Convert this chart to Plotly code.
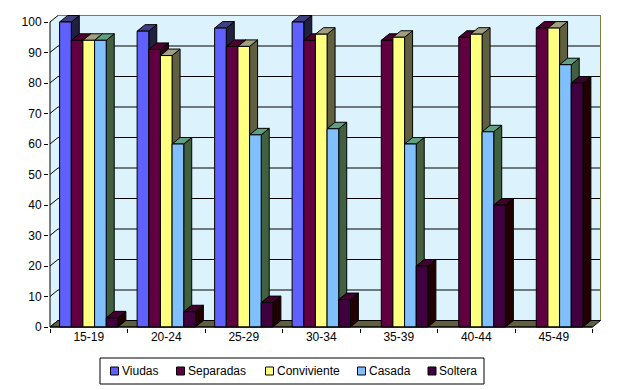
import plotly.graph_objects as go

# ---------------- data ----------------
categories = ["15-19", "20-24", "25-29", "30-34", "35-39", "40-44", "45-49"]
series_names = ["Viudas", "Separadas", "Conviviente", "Casada", "Soltera"]
viudas = [100, 97, 98, 100, None, None, None]
separadas = [94, 91, 92, 94, 94, 95, 98]
conviviente = [94, 89, 92, 96, 95, 96, 98]
casada = [94, 60, 63, 65, 60, 64, 86]
soltera = [3, 5, 8, 9, 20, 40, 80]
y_ticks = [0, 10, 20, 30, 40, 50, 60, 70, 80, 90, 100]

series_values = [viudas, separadas, conviviente, casada, soltera]

# ---------------- styles ----------------
front_colors = ["#6060FF", "#600040", "#FFFF80", "#80C0FF", "#400040"]
top_colors = ["#404080", "#500030", "#A0A080", "#60A080", "#400030"]
side_colors = ["#202040", "#300020", "#606040", "#406040", "#200000"]
wall_color = "#dcf2fc"
floor_color = "#606040"
wall_border = "#808040"
FONT = "Liberation Sans, Arial, sans-serif"

# ---------------- geometry (pixels) ----------------
W_FIG, H_FIG = 624, 390
ML, MR, MT, MB = 49, 22, 14, 62
PX_CAT = 77.5      # pixels per category
PX_UNIT = 3.05     # pixels per y unit
DEPTH_X, DEPTH_Y = 8.0, 6.5
BARGAP = 0.248
n_cat = len(categories)
n_ser = len(series_names)

dxu = DEPTH_X / PX_CAT
dyu = DEPTH_Y / PX_UNIT
x_range = [-0.5 - 1 / PX_CAT, n_cat - 0.5 + 9.5 / PX_CAT]
y_max = max(y_ticks)
y_range = [-1 / PX_UNIT, y_max + 8 / PX_UNIT]
x_lo, x_hi = -0.5, n_cat - 0.5

fig = go.Figure()
for name, vals, col in zip(series_names, series_values, front_colors):
    fig.add_trace(go.Bar(
        x=categories, y=vals, name=name,
        marker=dict(color=col, line=dict(color="black", width=1)),
        hoverinfo="skip", showlegend=False,
    ))


def poly(pts):
    return "M " + " L ".join(f"{x},{y}" for x, y in pts) + " Z"


shapes = []
# back wall + left wall
shapes.append(dict(type="rect", xref="x", yref="y", x0=x_lo + dxu, x1=x_hi + dxu,
                   y0=dyu, y1=y_max + dyu, fillcolor=wall_color, line=dict(width=0),
                   layer="below"))
shapes.append(dict(type="path", xref="x", yref="y",
                   path=poly([(x_lo, 0), (x_lo, y_max), (x_lo + dxu, y_max + dyu), (x_lo + dxu, dyu)]),
                   fillcolor=wall_color, line=dict(width=0), layer="below"))
# gridlines on walls
for v in y_ticks:
    shapes.append(dict(type="path", xref="x", yref="y",
                       path=f"M {x_lo},{v} L {x_lo + dxu},{v + dyu} L {x_hi + dxu},{v + dyu}",
                       line=dict(color="black", width=1), layer="below"))
# back wall border (right and top)
shapes.append(dict(type="path", xref="x", yref="y",
                   path=f"M {x_lo + dxu},{y_max + dyu} L {x_hi + dxu},{y_max + dyu} L {x_hi + dxu},{dyu}",
                   line=dict(color=wall_border, width=1), layer="below"))
# floor
shapes.append(dict(type="path", xref="x", yref="y",
                   path=poly([(x_lo, 0), (x_hi, 0), (x_hi + dxu, dyu), (x_lo + dxu, dyu)]),
                   fillcolor=floor_color, line=dict(color="black", width=1), layer="below"))

# 3D faces of bars
bw = (1 - BARGAP) / n_ser
for i in range(n_cat):
    for j in range(n_ser):
        h = series_values[j][i]
        if h is None:
            continue
        L = i - (1 - BARGAP) / 2 + j * bw
        R = L + bw
        shapes.append(dict(type="path", xref="x", yref="y",
                           path=poly([(R, 0), (R, h), (R + dxu, h + dyu), (R + dxu, dyu)]),
                           fillcolor=side_colors[j], line=dict(color="black", width=1),
                           layer="below"))
        shapes.append(dict(type="path", xref="x", yref="y",
                           path=poly([(L, h), (R, h), (R + dxu, h + dyu), (L + dxu, h + dyu)]),
                           fillcolor=top_colors[j], line=dict(color="black", width=1),
                           layer="below"))

# axis lines
shapes.append(dict(type="line", xref="x", yref="y", x0=x_lo, x1=x_lo, y0=0, y1=y_max,
                   line=dict(color="black", width=1), layer="above"))
shapes.append(dict(type="line", xref="x", yref="y", x0=x_lo, x1=x_hi, y0=0, y1=0,
                   line=dict(color="black", width=1), layer="above"))

# ---------------- manual legend ----------------
PW = W_FIG - ML - MR
PH = H_FIG - MT - MB


def px2paper(px, py):
    return (px - ML) / PW, (H_FIG - MB - py) / PH


legend_box = (100, 358, 484, 384)
legend_item_x = [110.5, 176.5, 265.5, 357.5, 428.0]
lx0, ly0 = px2paper(legend_box[0], legend_box[3])
lx1, ly1 = px2paper(legend_box[2], legend_box[1])
shapes.append(dict(type="rect", xref="paper", yref="paper", x0=lx0, x1=lx1, y0=ly0, y1=ly1,
                   line=dict(color="black", width=1), fillcolor="white", layer="above"))
annotations = []
for name, col, sx in zip(series_names, front_colors, legend_item_x):
    ax0, ay0 = px2paper(sx, 375)
    ax1, ay1 = px2paper(sx + 8, 367)
    shapes.append(dict(type="rect", xref="paper", yref="paper", x0=ax0, x1=ax1, y0=ay0, y1=ay1,
                       fillcolor=col, line=dict(color="black", width=1), layer="above"))
    tx, ty = px2paper(sx + 9, 371)
    annotations.append(dict(text=name, xref="paper", yref="paper", x=tx, y=ty,
                            xanchor="left", yanchor="middle", showarrow=False,
                            font=dict(family=FONT, size=12, color="black")))

fig.update_layout(
    width=W_FIG, height=H_FIG,
    margin=dict(l=ML, r=MR, t=MT, b=MB, autoexpand=False),
    paper_bgcolor="white", plot_bgcolor="white",
    barmode="group", bargap=BARGAP, bargroupgap=0,
    showlegend=False,
    font=dict(family=FONT, size=12, color="black"),
    shapes=shapes, annotations=annotations,
    xaxis=dict(type="category", range=x_range, tickson="boundaries", ticks="outside",
               ticklen=4, tickcolor="black", showgrid=False, zeroline=False, showline=False,
               tickfont=dict(family=FONT, size=12, color="black")),
    yaxis=dict(range=y_range, tickvals=y_ticks, ticks="outside", ticklen=4, tickcolor="black",
               showgrid=False, zeroline=False, showline=False,
               tickfont=dict(family=FONT, size=12, color="black")),
)

fig.write_html("out.html", config={"displayModeBar": False},
               post_script="document.body.style.margin='0px';")
